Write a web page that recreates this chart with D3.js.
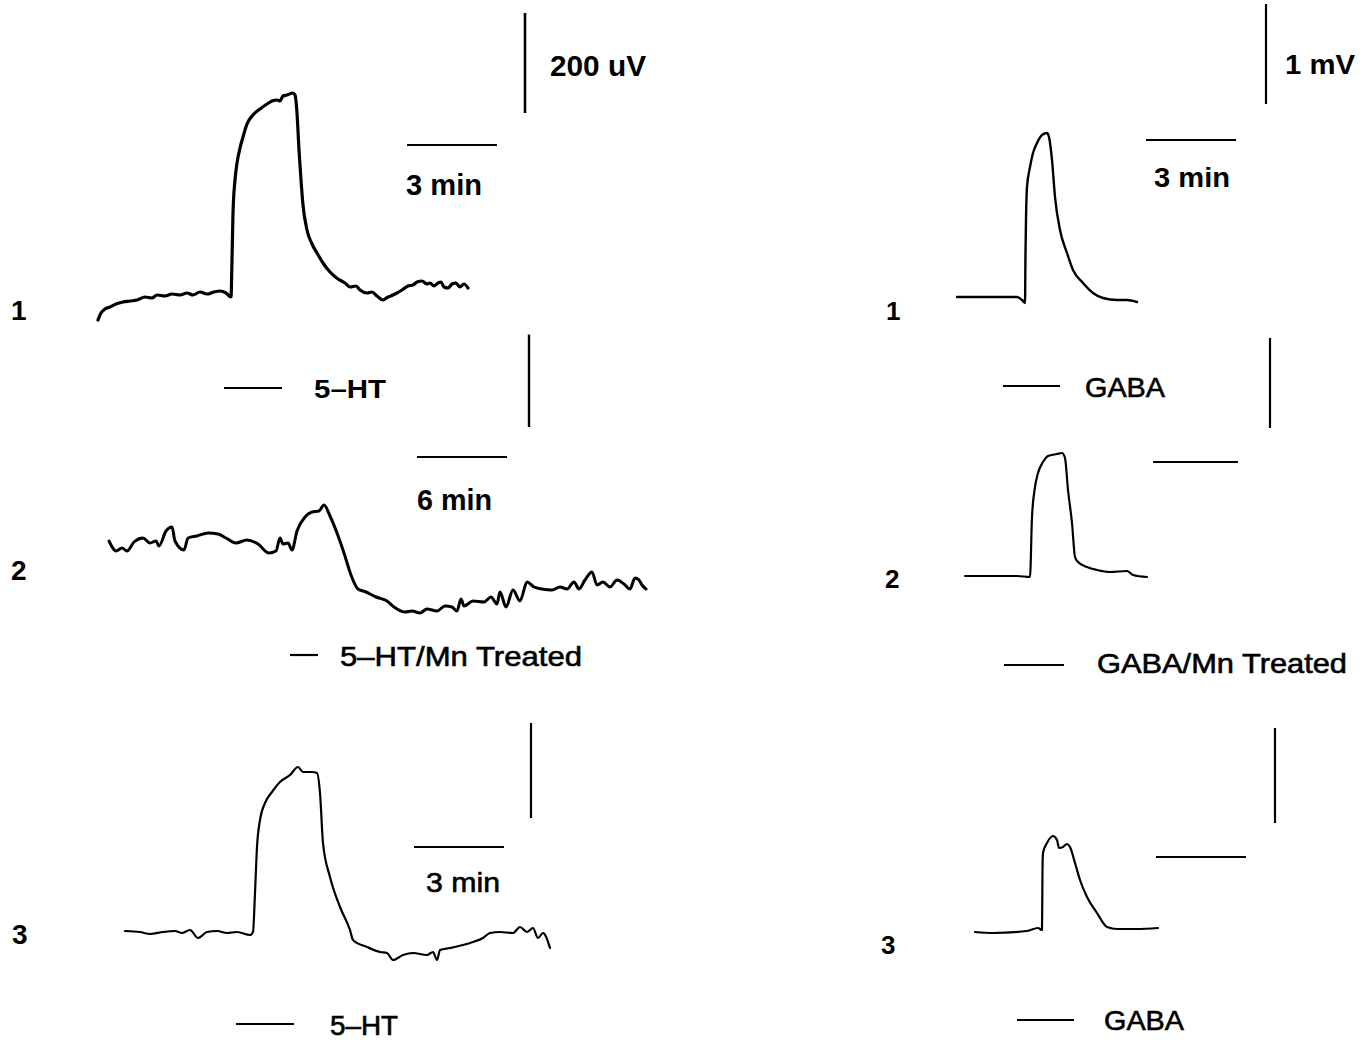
<!DOCTYPE html>
<html>
<head>
<meta charset="utf-8">
<script src="https://cdn.jsdelivr.net/npm/d3@7/dist/d3.min.js"></script>
<style>
  html, body { margin: 0; padding: 0; background: #fff; }
  svg { display: block; }
  text { font-family: "Liberation Sans", Arial, Helvetica, sans-serif; fill: #000; }
</style>
</head>
<body>
<svg id="chart" width="1370" height="1040"></svg>
<script>
// ---------------- DATA ----------------
// Time in seconds from start of trace, amplitude relative to pre-stimulus baseline.
// Left traces: amplitude in µV. Right traces: amplitude in mV.

const trace5HT1_t = [0,6,14,24,36,50,64,78,94,108,118,134,148,164,178,190,204,218,232,244,256,266,268,270,274,278,284,290,298,310,324,338,348,358,364,370,378,390,394,398,402,406,410,418,428,438,450,464,480,494,504,516,524,538,548,558,570,580,590,598,608,620,630,638,648,658,664,672,680,686,692,700,708,716,724,732,740];
const trace5HT1_v = [-54,-40,-32,-28,-22,-18,-16,-14,-8,-10,-4,-6,-2,-4,0,-4,2,-2,2,4,0,-8,66,160,226,260,290,312,338,356,368,378,384,386,384,394,396,400,396,360,286,226,176,126,98,80,60,42,28,20,12,14,6,0,2,-6,-14,-8,-4,0,6,14,16,22,24,18,20,14,20,22,12,10,18,20,12,18,10];

const trace5HTMn_t = [0,28,52,72,100,136,164,188,200,228,252,264,300,316,352,396,436,468,508,552,596,640,668,684,696,716,732,752,784,812,840,860,884,912,940,968,996,1028,1068,1112,1140,1184,1212,1244,1272,1312,1344,1372,1392,1408,1420,1456,1500,1528,1552,1564,1588,1616,1644,1672,1700,1732,1772,1804,1832,1860,1880,1904,1932,1952,1976,2004,2032,2060,2084,2104,2120,2132,2148];
const trace5HTMn_v = [0,-20,-14,-20,-2,6,-4,0,-10,20,28,0,-18,6,10,16,14,6,-4,2,-6,-24,-20,6,-6,-4,-18,20,48,58,60,72,50,16,-24,-68,-96,-102,-112,-120,-132,-142,-140,-144,-136,-140,-130,-132,-140,-116,-130,-120,-122,-112,-126,-102,-132,-98,-120,-82,-92,-96,-98,-92,-96,-82,-96,-78,-62,-88,-82,-92,-78,-86,-96,-74,-78,-88,-96];

const trace5HT3_t = [0,30,50,76,100,114,130,146,164,184,204,224,250,256,260,264,270,280,294,310,330,346,356,374,384,390,396,410,430,450,456,484,510,524,536,556,576,604,616,624,630,650,676,696,716,730,750,776,790,804,816,826,836,850];
const trace5HT3_v = [2,0,-4,0,2,-2,4,-12,0,2,-2,0,-6,0,78,170,224,258,280,300,314,330,320,320,318,278,178,110,50,4,-16,-30,-40,-42,-56,-46,-42,-46,-40,-56,-36,-32,-26,-20,-12,-2,0,-2,10,0,8,-12,-2,-32];

const traceGABA1_t = [0,52,120,130,136,137,138,140,146,152,160,170,180,184,190,196,206,220,232,252,272,292,320,340,360];
const traceGABA1_v = [0,0,0,-0.03,-0.06,0.44,0.77,1.10,1.30,1.44,1.54,1.62,1.64,1.60,1.37,1.00,0.67,0.44,0.27,0.14,0.04,-0.01,-0.03,-0.03,-0.05];

const traceGABAMn_t = [0,36,104,130,134,140,146,156,166,184,194,200,206,214,220,226,244,264,290,324,336,364];
const traceGABAMn_v = [0,0,0,-0.01,0.59,0.89,1.03,1.14,1.20,1.22,1.23,1.18,0.86,0.53,0.19,0.14,0.09,0.06,0.04,0.05,0.01,-0.01];

const traceGABA3_t = [0,36,104,126,134,135,136,144,156,164,168,176,184,190,200,210,224,244,264,284,324,366];
const traceGABA3_v = [0,-0.01,0.01,0.04,0.02,0.62,0.79,0.89,0.96,0.92,0.84,0.85,0.88,0.85,0.69,0.52,0.35,0.19,0.05,0.03,0.03,0.04];

// scale bars (amplitude, time) and drug application durations (s)
const ampBarValues   = [200, 185, 190, 1, 0.9, 0.95];      // µV (left), mV (right)
const timeBarValues  = [180, 360, 180, 180, 170, 180];     // seconds
const timeBarLabels  = ["3 min", "6 min", "3 min", "3 min", "", ""];
const ampBarLabels   = ["200 uV", "", "", "1 mV", "", ""];
const drugLabels     = ["5\u2013HT", "5\u2013HT/Mn Treated", "5\u2013HT", "GABA", "GABA/Mn Treated", "GABA"];
const drugDurations  = [116, 112, 116, 114, 120, 114];     // seconds
const rowLabels      = ["1", "2", "3", "1", "2", "3"];

// ---------------- LAYOUT ----------------
const panels = [
  { t: trace5HT1_t,  v: trace5HT1_v,  x0: 98,  y0: 293, kx: 0.5,  ky: 0.5, sw: 3.2,
    vbar: {x: 525, y: 113, w: 2.6}, hbar: {x: 407, y: 145},
    ampText: {x: 550, y: 76, len: 96, size: 30, bold: true},
    timeText: {x: 406, y: 195, len: 76, size: 29, bold: true},
    drug: {x: 224, y: 388, tx: 314, ty: 398, len: 72, size: 26, bold: true},
    row: {x: 11, y: 320, size: 28} },
  { t: trace5HTMn_t, v: trace5HTMn_v, x0: 109, y0: 541, kx: 0.25, ky: 0.5, sw: 3.0,
    vbar: {x: 529, y: 427, w: 2.4}, hbar: {x: 417, y: 457},
    timeText: {x: 417, y: 510, len: 75, size: 29, bold: true},
    drug: {x: 290, y: 655, tx: 340, ty: 666, len: 242, size: 28, bold: false},
    row: {x: 11, y: 580, size: 28} },
  { t: trace5HT3_t,  v: trace5HT3_v,  x0: 125, y0: 932, kx: 0.5,  ky: 0.5, sw: 2.2,
    vbar: {x: 531, y: 818, w: 2.2}, hbar: {x: 414, y: 847},
    timeText: {x: 426, y: 892, len: 74, size: 28, bold: false},
    drug: {x: 236, y: 1024, tx: 330, ty: 1035, len: 68, size: 27, bold: false},
    row: {x: 12, y: 944, size: 28} },
  { t: traceGABA1_t, v: traceGABA1_v, x0: 957, y0: 297, kx: 0.5,  ky: 100, sw: 2.4,
    vbar: {x: 1266, y: 104, w: 2.2}, hbar: {x: 1146, y: 140},
    ampText: {x: 1285, y: 74, len: 70, size: 28, bold: true},
    timeText: {x: 1154, y: 187, len: 76, size: 28, bold: true},
    drug: {x: 1003, y: 386, tx: 1085, ty: 397, len: 80, size: 28, bold: false},
    row: {x: 886, y: 320, size: 26} },
  { t: traceGABAMn_t, v: traceGABAMn_v, x0: 965, y0: 576, kx: 0.5, ky: 100, sw: 2.2,
    vbar: {x: 1270, y: 428, w: 2.2}, hbar: {x: 1153, y: 462},
    drug: {x: 1004, y: 665, tx: 1097, ty: 673, len: 250, size: 28, bold: false},
    row: {x: 885, y: 588, size: 26} },
  { t: traceGABA3_t, v: traceGABA3_v, x0: 975, y0: 932, kx: 0.5,  ky: 100, sw: 2.2,
    vbar: {x: 1275, y: 823, w: 2.2}, hbar: {x: 1156, y: 857},
    drug: {x: 1017, y: 1020, tx: 1104, ty: 1030, len: 80, size: 27, bold: false},
    row: {x: 881, y: 954, size: 26} }
];

// ---------------- DRAW ----------------
const svg = d3.select("#chart");
svg.append("rect").attr("width", 1370).attr("height", 1040).attr("fill", "#fff");

function addText(g, str, o) {
  const t = g.append("text")
    .attr("x", o.x).attr("y", o.y)
    .attr("font-size", o.size)
    .attr("font-weight", o.bold ? "bold" : "normal")
    .text(str);
  if (o.len) t.attr("textLength", o.len).attr("lengthAdjust", "spacingAndGlyphs");
  if (!o.bold) t.attr("stroke", "#000").attr("stroke-width", 0.6);
  return t;
}

panels.forEach((p, i) => {
  const g = svg.append("g");
  const tMax = d3.max(p.t);
  const vExt = d3.extent(p.v);
  // scales
  const x = d3.scaleLinear().domain([0, tMax]).range([p.x0, p.x0 + tMax * p.kx]);
  const y = d3.scaleLinear().domain([0, vExt[1]]).range([p.y0, p.y0 - vExt[1] * p.ky]);

  const pts = p.t.map((t, j) => [t, p.v[j]]);
  const line = d3.line().x(d => x(d[0])).y(d => y(d[1])).curve(d3.curveMonotoneX);
  g.append("path").datum(pts)
    .attr("d", line)
    .attr("fill", "none")
    .attr("stroke", "#000")
    .attr("stroke-width", p.sw)
    .attr("stroke-linejoin", "round")
    .attr("stroke-linecap", "round");

  // amplitude scale bar (vertical) — length from y scale
  const ampLen = Math.abs(y(ampBarValues[i]) - y(0));
  g.append("line")
    .attr("x1", p.vbar.x).attr("x2", p.vbar.x)
    .attr("y1", p.vbar.y).attr("y2", p.vbar.y - ampLen)
    .attr("stroke", "#000").attr("stroke-width", p.vbar.w);

  // time scale bar (horizontal) — length from x scale
  const timeLen = x(timeBarValues[i]) - x(0);
  g.append("line")
    .attr("x1", p.hbar.x).attr("x2", p.hbar.x + timeLen)
    .attr("y1", p.hbar.y).attr("y2", p.hbar.y)
    .attr("stroke", "#000").attr("stroke-width", 2);

  if (ampBarLabels[i] && p.ampText) addText(g, ampBarLabels[i], p.ampText);
  if (timeBarLabels[i] && p.timeText) addText(g, timeBarLabels[i], p.timeText);

  // drug application bar
  const drugLen = x(drugDurations[i]) - x(0);
  g.append("line")
    .attr("x1", p.drug.x).attr("x2", p.drug.x + drugLen)
    .attr("y1", p.drug.y).attr("y2", p.drug.y)
    .attr("stroke", "#000").attr("stroke-width", 2.2);
  addText(g, drugLabels[i], {x: p.drug.tx, y: p.drug.ty, len: p.drug.len, size: p.drug.size, bold: p.drug.bold});

  // row number
  addText(g, rowLabels[i], {x: p.row.x, y: p.row.y, size: p.row.size, bold: true});
});
</script>
</body>
</html>
